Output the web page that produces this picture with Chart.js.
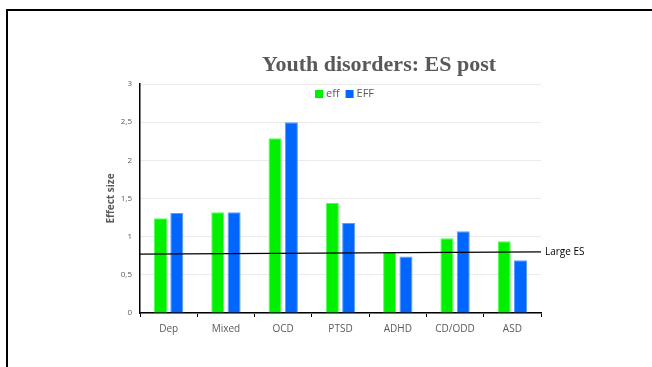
<!DOCTYPE html>
<html>
<head>
<meta charset="utf-8">
<style>
  html, body { margin: 0; padding: 0; background: #fff; }
  #wrap { position: relative; width: 652px; height: 367px; }
</style>
<script src="https://cdn.jsdelivr.net/npm/chart.js@4/dist/chart.umd.min.js"></script>
</head>
<body>
<div id="wrap"><canvas id="c" width="652" height="367"></canvas></div>
<script>
// Disorder categories and effect sizes
const categories = ['Dep', 'Mixed', 'OCD', 'PTSD', 'ADHD', 'CD/ODD', 'ASD'];
const effValues  = [1.24, 1.32, 2.29, 1.44, 0.80, 0.98, 0.94];
const EFFValues  = [1.31, 1.32, 2.50, 1.18, 0.74, 1.07, 0.69];
// Reference line for a large effect size (value at the left and right edge of the plot)
const largeES = [0.77, 0.80];
const yTicks = [0, 0.5, 1, 1.5, 2, 2.5, 3];

const GREY = '#595959';
const LABEL_FONT = '"Open Sans", sans-serif';

// Slide frame, title, legend, axis title and the large-ES reference line
const decorations = {
  id: 'decorations',
  beforeDraw(chart) {
    const ctx = chart.ctx;
    ctx.save();
    ctx.fillStyle = '#fff';
    ctx.fillRect(0, 0, chart.width, chart.height);
    ctx.strokeStyle = '#000';
    ctx.lineWidth = 2;
    ctx.beginPath();
    ctx.moveTo(7, chart.height + 5);
    ctx.lineTo(7, 10);
    ctx.lineTo(chart.width + 5, 10);
    ctx.stroke();
    ctx.restore();
  },
  afterDraw(chart) {
    const ctx = chart.ctx;
    const area = chart.chartArea;
    const yScale = chart.scales.y;
    ctx.save();

    // Title
    ctx.fillStyle = GREY;
    ctx.font = 'bold 22px "Liberation Serif", serif';
    ctx.textAlign = 'center';
    ctx.textBaseline = 'alphabetic';
    ctx.fillText('Youth disorders: ES post', 379, 71);

    // Legend
    ctx.font = '11px ' + LABEL_FONT;
    ctx.textBaseline = 'middle';
    ctx.textAlign = 'left';
    let lx = 315;
    const ly = 94;
    chart.data.datasets.forEach((ds) => {
      ctx.fillStyle = ds.backgroundColor;
      ctx.fillRect(lx, ly - 4, 8, 8);
      ctx.fillStyle = GREY;
      ctx.fillText(ds.label, lx + 11, ly);
      lx += 11 + ctx.measureText(ds.label).width + 6;
    });

    // Y axis title
    ctx.save();
    ctx.translate(111, (area.top + area.bottom) / 2);
    ctx.rotate(-Math.PI / 2);
    ctx.textAlign = 'center';
    ctx.textBaseline = 'middle';
    ctx.fillStyle = GREY;
    ctx.font = 'bold 10px ' + LABEL_FONT;
    ctx.fillText('Effect size', 0, 0);
    ctx.restore();

    // Large ES reference line
    const y0 = yScale.getPixelForValue(largeES[0]);
    const y1 = yScale.getPixelForValue(largeES[1]);
    ctx.strokeStyle = '#000';
    ctx.lineWidth = 1.2;
    ctx.beginPath();
    ctx.moveTo(area.left, y0);
    ctx.lineTo(area.right, y1);
    ctx.stroke();

    ctx.fillStyle = '#000';
    ctx.font = '10px ' + LABEL_FONT;
    ctx.textAlign = 'left';
    ctx.textBaseline = 'middle';
    ctx.fillText('Large ES', area.right + 4, y1);
    ctx.restore();
  }
};

new Chart(document.getElementById('c'), {
  type: 'bar',
  data: {
    labels: categories,
    datasets: [
      {
        label: 'eff',
        data: effValues,
        backgroundColor: '#00F000',
        borderColor: '#55FF55',
        borderWidth: 1
      },
      {
        label: 'EFF',
        data: EFFValues,
        backgroundColor: '#0066FF',
        borderColor: '#5C9CFF',
        borderWidth: 1
      }
    ]
  },
  options: {
    responsive: false,
    animation: false,
    datasets: {
      bar: { categoryPercentage: 0.57, barPercentage: 0.8 }
    },
    layout: { padding: { left: 0, right: 111, top: 84, bottom: 0 } },
    plugins: {
      title: { display: false },
      tooltip: { enabled: false },
      legend: { display: false }
    },
    scales: {
      x: {
        offset: true,
        grid: {
          offset: true,
          drawOnChartArea: false,
          drawTicks: true,
          tickLength: 4,
          color: '#000'
        },
        border: { color: '#000', width: 1.5 },
        ticks: {
          color: GREY,
          padding: 6,
          font: { family: LABEL_FONT, size: 10 }
        },
        afterFit(scale) { scale.height = 54; }
      },
      y: {
        min: 0,
        max: 3,
        afterBuildTicks(scale) { scale.ticks = yTicks.map(v => ({ value: v })); },
        grid: { color: '#ebebeb', drawTicks: false },
        border: { color: '#000', width: 1.5 },
        ticks: {
          color: GREY,
          padding: 8,
          font: { family: LABEL_FONT, size: 8 },
          callback: (v) => String(v).replace('.', ',')
        },
        afterFit(scale) { scale.width = 140; }
      }
    }
  },
  plugins: [decorations]
});
</script>
</body>
</html>
